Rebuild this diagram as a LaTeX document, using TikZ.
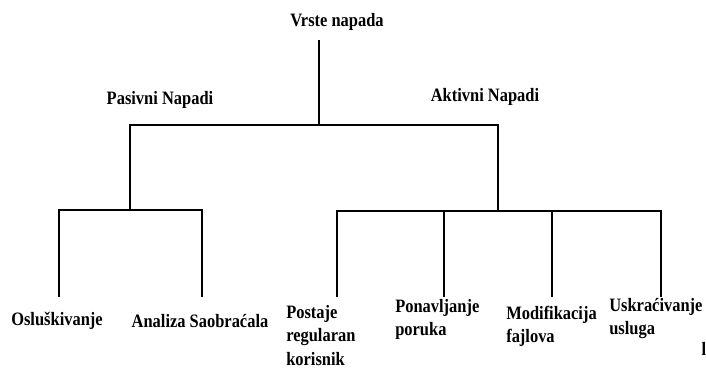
\documentclass[tikz,border=0pt]{standalone}
\usepackage{fontspec}
\setmainfont{Liberation Serif}
\newcommand{\tall}[1]{\scalebox{1}[1.15]{#1}}
\begin{document}
\begin{tikzpicture}[x=0.025cm,y=-0.025cm]
    \tikzset{lbl/.style={font=\bfseries\fontsize{11.7}{16.6}\selectfont,inner sep=0pt},
             leaf/.style={lbl,align=left,anchor=north west},
             edge/.style={draw,line width=1.5pt}}
    \useasboundingbox (0,0) rectangle (706,370);
    % labels
    \node[lbl] (vrste) at (337,22)  { \tall{Vrste napada} };
    \node[lbl] (pasivni) at (160,100) { \tall{Pasivni Napadi} };
    \node[lbl] (aktivni) at (485,97)  { \tall{Aktivni Napadi} };
    \node[lbl] (osl) at (57,321)  { \tall{Osluškivanje} };
    \node[lbl] (anl) at (200,321) { \tall{Analiza Saobraćala} };
    \node[leaf] (pos) at (286,305) { \tall{Postaje}\\\tall{regularan}\\\tall{korisnik} };
    \node[leaf] (pon) at (395,299) { \tall{Ponavljanje}\\\tall{poruka} };
    \node[leaf] (mod) at (506,306) { \tall{Modifikacija}\\\tall{fajlova} };
    \node[leaf] (usk) at (609,298) { \tall{Uskraćivanje}\\\tall{usluga} };
    \node[lbl] (rest) at (704,349) { \tall{l} };
    % junctions
    \coordinate (r0) at (319,40);
    \coordinate (r1) at (319,125);
    \coordinate (p0) at (130,125);
    \coordinate (p1) at (130,210);
    \coordinate (a0) at (498,125);
    \coordinate (a1) at (498,211);
    \coordinate (osl0) at (59,210);
    \coordinate (osl1) at (59,297);
    \coordinate (anl0) at (202,210);
    \coordinate (anl1) at (202,297);
    \coordinate (pos0) at (337,211);
    \coordinate (pos1) at (337,297);
    \coordinate (pon0) at (444,211);
    \coordinate (pon1) at (444,297);
    \coordinate (mod0) at (552,211);
    \coordinate (mod1) at (552,297);
    \coordinate (usk0) at (661,211);
    \coordinate (usk1) at (661,297);
    % tree
    \draw[edge] (r0) -- (r1);
    \draw[edge] (p1) -- (p0) -- (a0) -- (a1);
    \draw[edge] (osl1) -- (osl0) -- (anl0) -- (anl1);
    \draw[edge] (pos1) -- (pos0) -- (usk0) -- (usk1);
    \draw[edge] (pon0) -- (pon1);
    \draw[edge] (mod0) -- (mod1);
\end{tikzpicture}
\end{document}
